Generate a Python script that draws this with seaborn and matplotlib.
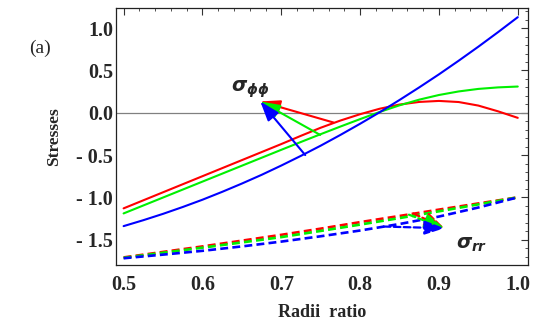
import numpy as np
import pandas as pd
import matplotlib
matplotlib.use("Agg")
import matplotlib.pyplot as plt
import seaborn as sns
from matplotlib.ticker import MultipleLocator, FixedLocator

# ---- data ----
x_solid = [0.500, 0.525, 0.550, 0.575, 0.600, 0.625, 0.650, 0.675, 0.700, 0.725, 0.750,
           0.775, 0.800, 0.825, 0.850, 0.875, 0.900, 0.925, 0.950, 0.975, 1.000]
phi_red = [-1.13, -1.035, -0.94, -0.845, -0.75, -0.655, -0.56, -0.465, -0.37, -0.272, -0.177,
           -0.092, -0.017, 0.048, 0.097, 0.128, 0.140, 0.127, 0.085, 0.017, -0.060]
phi_green = [-1.19, -1.096, -1.002, -0.908, -0.814, -0.720, -0.626, -0.532, -0.438, -0.345, -0.253,
             -0.163, -0.075, 0.010, 0.088, 0.155, 0.210, 0.252, 0.282, 0.300, 0.310]
phi_blue = [-1.340, -1.270, -1.195, -1.114, -1.028, -0.935, -0.837, -0.734, -0.624, -0.509, -0.389,
            -0.262, -0.130, 0.007, 0.151, 0.300, 0.454, 0.615, 0.781, 0.953, 1.130]

x_dash = [0.50, 0.55, 0.60, 0.65, 0.70, 0.75, 0.80, 0.85, 0.90, 0.95, 1.00]
rr_red = [-1.71, -1.645, -1.58, -1.512, -1.443, -1.37, -1.293, -1.22, -1.145, -1.072, -1.0]
rr_green = [-1.715, -1.655, -1.595, -1.533, -1.47, -1.397, -1.322, -1.245, -1.165, -1.083, -1.0]
rr_blue = [-1.72, -1.677, -1.632, -1.58, -1.523, -1.46, -1.392, -1.315, -1.227, -1.12, -1.0]

x_ticks = [0.5, 0.6, 0.7, 0.8, 0.9, 1.0]
x_tick_labels = ["0.5", "0.6", "0.7", "0.8", "0.9", "1.0"]
y_ticks = [-1.5, -1.0, -0.5, 0.0, 0.5, 1.0]
y_tick_labels = ["- 1.5", "- 1.0", "- 0.5", "0.0", "0.5", "1.0"]

colors = {"red": "#ff0000", "green": "#00f000", "blue": "#0000ff"}

# annotation anchor points (data coords)
phi_tip = (0.6734, 0.134)
phi_tails = {"red": (0.7662, -0.115), "green": (0.7494, -0.262), "blue": (0.7304, -0.50)}
rr_tip = (0.907, -1.365)
rr_tails = {"red": (0.8675, -1.19), "green": (0.862, -1.205), "blue": (0.830, -1.345)}

# ---- build frames ----
df_solid = pd.DataFrame({
    "x": x_solid * 3,
    "y": phi_red + phi_green + phi_blue,
    "series": ["red"] * len(x_solid) + ["green"] * len(x_solid) + ["blue"] * len(x_solid),
})
df_dash = pd.DataFrame({
    "x": x_dash * 3,
    "y": rr_red + rr_green + rr_blue,
    "series": ["red"] * len(x_dash) + ["green"] * len(x_dash) + ["blue"] * len(x_dash),
})

sns.set_style("white")
plt.rcParams["font.family"] = ["Liberation Serif", "DejaVu Serif"]
plt.rcParams["mathtext.fontset"] = "custom"
plt.rcParams["mathtext.it"] = "DejaVu Sans:italic:bold"
plt.rcParams["mathtext.rm"] = "DejaVu Sans:bold"

fig = plt.figure(figsize=(5.39, 3.24), dpi=100)
ax = fig.add_axes([0.2147, 0.182, 0.9796 - 0.2147, 0.9744 - 0.182])

ax.axhline(0, color="#808080", lw=0.9, zorder=1)

sns.lineplot(data=df_solid, x="x", y="y", hue="series", palette=colors,
             hue_order=["red", "green", "blue"], linewidth=1.5, legend=False, ax=ax,
             sort=False, estimator=None)
sns.lineplot(data=df_dash, x="x", y="y", hue="series", palette=colors,
             hue_order=["red", "green", "blue"], linewidth=1.9, legend=False, ax=ax,
             sort=False, estimator=None)
for line in ax.lines[-3:]:
    line.set_dashes((3.0, 1.6))

# arrows
for key in ["red", "green", "blue"]:
    ax.annotate("", xy=phi_tip, xytext=phi_tails[key],
                arrowprops=dict(arrowstyle="-|>,head_length=1.0,head_width=0.35",
                                color=colors[key], lw=1.5, shrinkA=0, shrinkB=0,
                                mutation_scale=12))
for key in ["red", "green", "blue"]:
    ax.annotate("", xy=rr_tip, xytext=rr_tails[key],
                arrowprops=dict(arrowstyle="-|>,head_length=1.0,head_width=0.35",
                                color=colors[key], lw=1.6, ls=(0, (3, 1.5)),
                                shrinkA=0, shrinkB=0, mutation_scale=12))

ax.text(0.661, 0.29, r"$\sigma_{\phi\phi}$", fontsize=14, ha="center", va="center")
ax.text(0.941, -1.56, r"$\sigma_{rr}$", fontsize=14, ha="center", va="center")

ax.set_xlim(0.49, 1.013)
ax.set_ylim(-1.80, 1.235)

ax.xaxis.set_major_locator(FixedLocator(x_ticks))
ax.set_xticklabels(x_tick_labels)
ax.yaxis.set_major_locator(FixedLocator(y_ticks))
ax.set_yticklabels(y_tick_labels)
ax.xaxis.set_minor_locator(MultipleLocator(0.02))
ax.yaxis.set_minor_locator(MultipleLocator(0.1))

ax.tick_params(which="both", direction="in", top=True, right=True, color="#333333")
ax.tick_params(which="major", length=5, width=0.8)
ax.tick_params(which="minor", length=2.5, width=0.6)
ax.tick_params(axis="x", which="major", pad=7)
ax.tick_params(axis="y", which="major", pad=2)
for lab in ax.get_xticklabels() + ax.get_yticklabels():
    lab.set_fontweight("bold")
    lab.set_fontsize(14.5)

for sp in ax.spines.values():
    sp.set_color("#222222")
    sp.set_linewidth(0.9)

ax.set_xlabel("Radii  ratio", fontsize=13, fontweight="bold", labelpad=7)
ax.set_ylabel("Stresses", fontsize=12.5, fontweight="bold", labelpad=10)

fig.text(0.074, 0.852, "(a)", fontsize=14, ha="center", va="center")

fig.savefig("out.png", dpi=100)
